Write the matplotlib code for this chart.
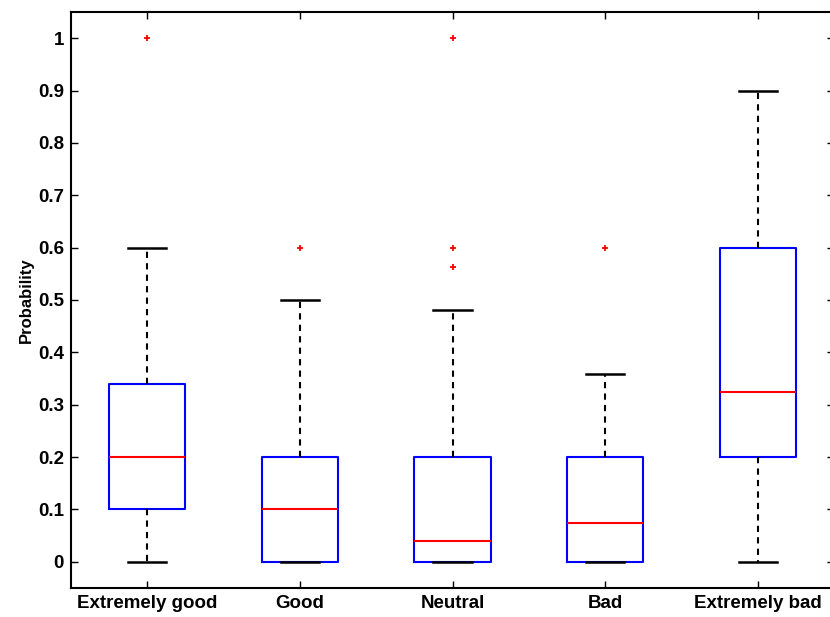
import matplotlib
matplotlib.use('Agg')
from matplotlib import pyplot as plt

# Box statistics
categories = ['Extremely good', 'Good', 'Neutral', 'Bad', 'Extremely bad']
whisker_low = [0.0, 0.0, 0.0, 0.0, 0.0]
q1 = [0.1, 0.0, 0.0, 0.0, 0.2]
medians = [0.2, 0.1, 0.04, 0.074, 0.325]
q3 = [0.34, 0.2, 0.2, 0.2, 0.6]
whisker_high = [0.6, 0.5, 0.48, 0.358, 0.9]
outliers = [[1.0], [0.6], [0.5625, 0.6, 1.0], [0.6], []]

stats = []
for i in range(len(categories)):
    stats.append({'whislo': whisker_low[i], 'q1': q1[i], 'med': medians[i],
                  'q3': q3[i], 'whishi': whisker_high[i], 'fliers': outliers[i],
                  'label': categories[i]})

plt.rcParams['font.family'] = ['Liberation Sans', 'DejaVu Sans']
plt.rcParams['font.weight'] = 'bold'

fig = plt.figure(figsize=(8.3, 6.17), dpi=100)
ax = fig.add_axes([71 / 830, 1 - 588 / 617, 763 / 830, 576 / 617])

ax.bxp(stats, positions=range(1, 6), widths=0.5, showfliers=True,
       boxprops=dict(color='blue', linewidth=1.5),
       medianprops=dict(color='red', linewidth=1.5),
       whiskerprops=dict(color='black', linestyle=(0, (3, 2.5)), linewidth=1.5),
       capprops=dict(color='black', linewidth=1.8),
       capwidths=0.25,
       flierprops=dict(marker='+', markeredgecolor='red', markersize=5,
                       markeredgewidth=1.3, linestyle='none'))

ax.set_xlim(0.5, 5.5)
ax.set_ylim(-0.05, 1.05)
ax.set_yticks([i / 10 for i in range(11)])
ax.set_yticklabels(['0', '0.1', '0.2', '0.3', '0.4', '0.5', '0.6', '0.7', '0.8', '0.9', '1'])
ax.tick_params(direction='in', top=True, right=True, length=5, width=1,
               labelsize=13.5, pad=5)
for sp in ax.spines.values():
    sp.set_linewidth(1.5)
ax.set_ylabel('Probability', fontsize=12, fontweight='bold', labelpad=3)

fig.savefig('out.png', dpi=100)
